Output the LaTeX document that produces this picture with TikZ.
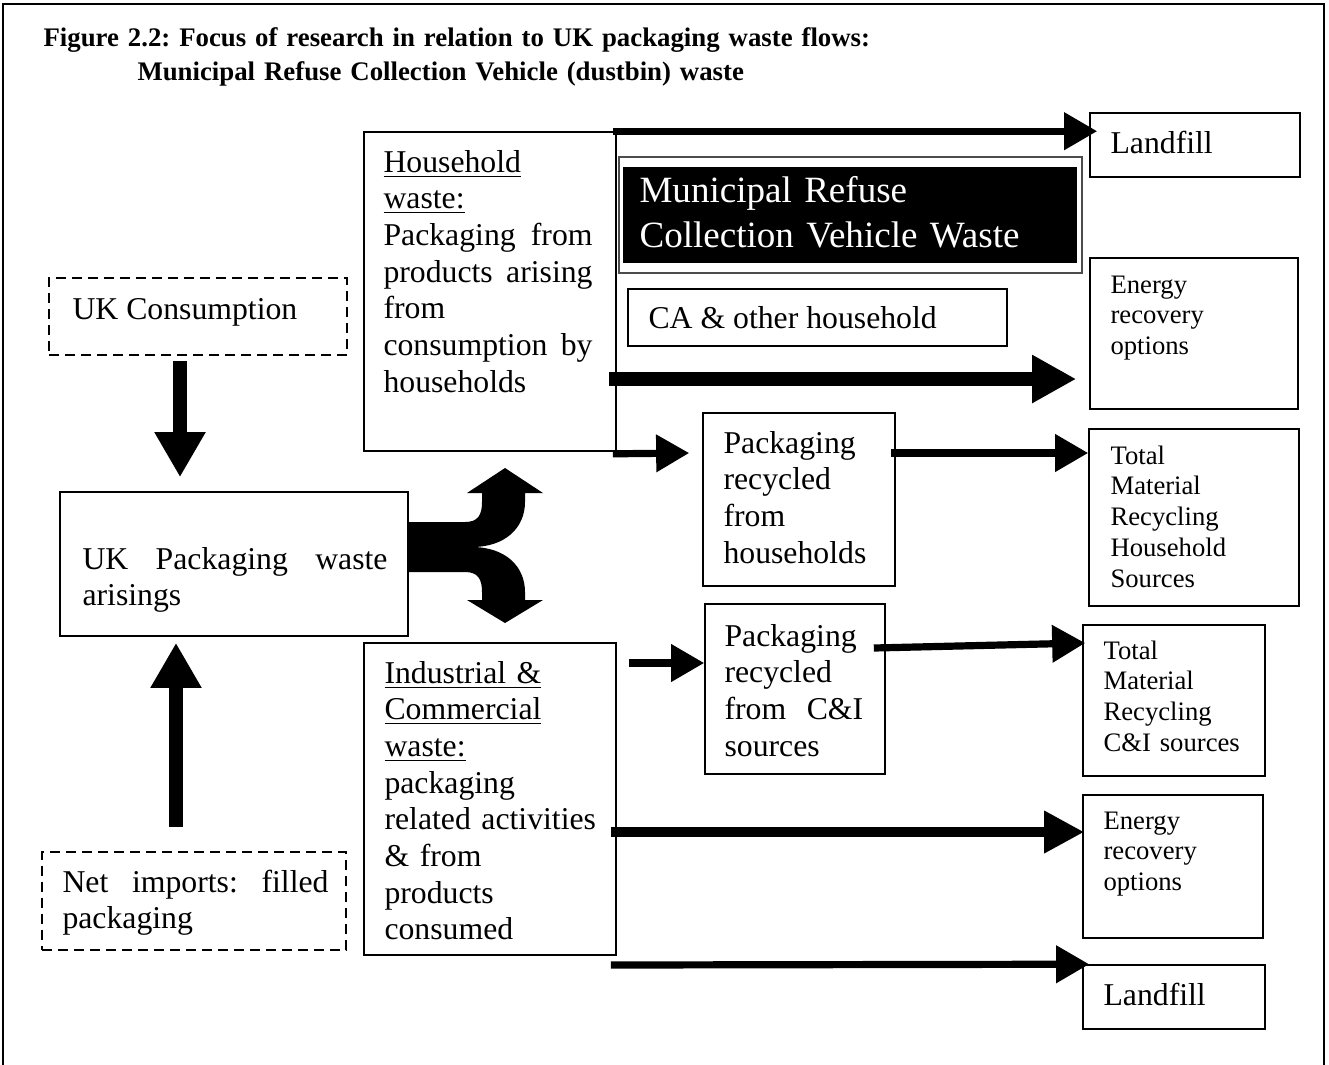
\documentclass[tikz,border=0pt]{standalone}
\usepackage{fontspec}
\setmainfont{Liberation Serif}
\usetikzlibrary{arrows.meta,fit,calc}
\AtBeginDocument{\frenchspacing}
\begin{document}
\begin{tikzpicture}[x=0.375pt,y=-0.375pt,
 font=\fontsize{11.9}{13.76}\selectfont,
 box/.style={draw, line width=0.6pt, inner sep=0pt},
 dbox/.style={box, dash pattern=on 3.75pt off 2.25pt},
 txt/.style={inner sep=0pt, anchor=base west},
 small/.style={font=\fontsize{10}{11.6}\selectfont},
 arrA/.style={line width=2.7pt, -{Triangle[length=12.4pt,width=13.5pt]}},
 arrB/.style={line width=4.9pt, -{Triangle[length=16.5pt,width=16.9pt]}},
 arrC/.style={line width=3.6pt, -{Triangle[length=15pt,width=15pt]}},
 arrV/.style={line width=4.9pt, -{Triangle[length=16.9pt,width=18pt]}},
]
\useasboundingbox (0,0) rectangle (1329,1064);
\draw[line width=0.8pt] (3,1075) -- (3,4) -- (1324,4) -- (1324,1075);

% title
\node[txt, font=\bfseries\fontsize{10.05}{12.9}\selectfont, text width=340pt] (title) at (43,46)
  {Figure 2.2: Focus of research in relation to UK packaging waste flows:\\\hspace*{35.25pt}Municipal Refuse Collection Vehicle (dustbin) waste};

% boxes
\node[dbox, fit={(49,278) (347,355)}] (ucons) {};
\node[box, fit={(60,492) (408,636)}] (ukp) {};
\node[dbox, fit={(42,852) (346,950)}] (netimp) {};
\node[box, fit={(364,132) (616,451)}] (hh) {};
\node[draw=black!70, line width=0.5pt, inner sep=0pt, fit={(619,157) (1082,273)}] (mrcv) {};
\node[fill=black, inner sep=0pt, fit={(623,167) (1077,263)}] (mrcvin) {};
\node[box, fit={(628,289) (1007,346)}] (ca) {};
\node[box, fit={(1090,113) (1300,177)}] (lf1) {};
\node[box, fit={(1090,258) (1298,409)}] (er1) {};
\node[box, fit={(703,413) (895,586)}] (prhh) {};
\node[box, fit={(1089,429) (1299,606)}] (tmhh) {};
\node[box, fit={(364,643) (616,955)}] (ic) {};
\node[box, fit={(705,604) (885,774)}] (prci) {};
\node[box, fit={(1083,625) (1265,776)}] (tmci) {};
\node[box, fit={(1083,795) (1263,938)}] (er2) {};
\node[box, fit={(1083,965) (1265,1029)}] (lf2) {};

% texts
\node[txt] (uconst) at (72,319) {UK Consumption};
\node[txt, text width=114.4pt] (ukpt) at (82,569) {UK\hfill Packaging\hfill waste\\arisings};
\node[txt, text width=99.75pt] (netimpt) at (62,892) {Net\hfill imports:\hfill filled\\packaging};
\node[txt, text width=78.4pt] (hht) at (383,172)
  {\underline{Household}\\\underline{waste:}\\Packaging\hfill from\\products\hfill arising\\from\\consumption\hfill by\\households};
\node[txt, text width=160pt, text=white, font=\fontsize{13.9}{16.9}\selectfont] (mrcvt) at (639,202)
  {Municipal Refuse\\Collection Vehicle Waste};
\node[txt] (cat) at (648,328) {CA \& other household};
\node[txt] (lf1t) at (1110,153) {Landfill};
\node[txt, small, text width=70pt] (er1t) at (1110,293) {Energy\\recovery\\options};
\node[txt, text width=60pt] (prhht) at (723,453) {Packaging\\recycled\\from\\households};
\node[txt, small, text width=70pt] (tmhht) at (1110,464) {Total\\Material\\Recycling\\Household\\Sources};
\node[txt, text width=85pt] (ict) at (384,683)
  {\underline{Industrial \&}\\\underline{Commercial}\\\underline{waste:}\\packaging\\related activities\\\& from\\products\\consumed};
\node[txt, text width=52pt] (prcit) at (724,646) {Packaging\\recycled\\from\hfill C\&I\\sources};
\node[txt, small, text width=65pt] (tmcit) at (1103,659) {Total\\Material\\Recycling\\C\&I sources};
\node[txt, small, text width=65pt] (er2t) at (1103,829) {Energy\\recovery\\options};
\node[txt] (lf2t) at (1103,1005) {Landfill};

% connectors
\draw[arrA] ($(hh.north east)+(-4,0)$) -- ($(hh.north east -| lf1.west)+(8,0)$);
\draw[arrB] ($(hh.east |- 0,379)+(-8,0)$) -- ($(er1.west |- 0,379)+(-13,0)$);
\draw[arrA] ($(hh.south east)+(-4,2)$) -- ($(prhh.west |- 0,453)+(-13,0)$);
\draw[arrA] ($(prhh.east |- 0,453)+(-5,0)$) -- (tmhh.west |- 0,453);
\draw[arrA] ($(ic.east |- 0,663)+(12,0)$) -- (prci.west |- 0,663);
\draw[arrA] ($(prci.east |- 0,648)+(-12,0)$) -- ($(tmci.west |- 0,643)+(3,0)$);
\draw[arrC] ($(ic.east |- 0,832)+(-6,0)$) -- ($(er2.west |- 0,832)+(2,0)$);
\draw[arrA] ($(ic.east |- 0,965)+(-6,0)$) -- ($(lf2.north west)+(7,0)$);
\draw[arrV] ($(ucons.south -| 180,0)+(0,5)$) -- ($(ukp.north -| 180,0)+(0,-14)$);
\draw[arrV] ($(netimp.north -| 176,0)+(0,-24)$) -- ($(ukp.south -| 176,0)+(0,6)$);

% split arrow
\fill ($(ukp.east |- 0,522)$) -- (465,522) .. controls (478,522) and (482,515) .. (482,502)
  -- (482,493) -- (467,493) -- (505,468) -- (543,493) -- (525,493) -- (525,502)
  .. controls (525,528) and (505,547) .. (472,547)
  .. controls (505,547) and (525,566) .. (525,592)
  -- (525,600) -- (543,600) -- (505,623) -- (467,600) -- (482,600) -- (482,592)
  .. controls (482,579) and (478,572) .. (465,572) -- (ukp.east |- 0,572) -- cycle;
\end{tikzpicture}
\end{document}
